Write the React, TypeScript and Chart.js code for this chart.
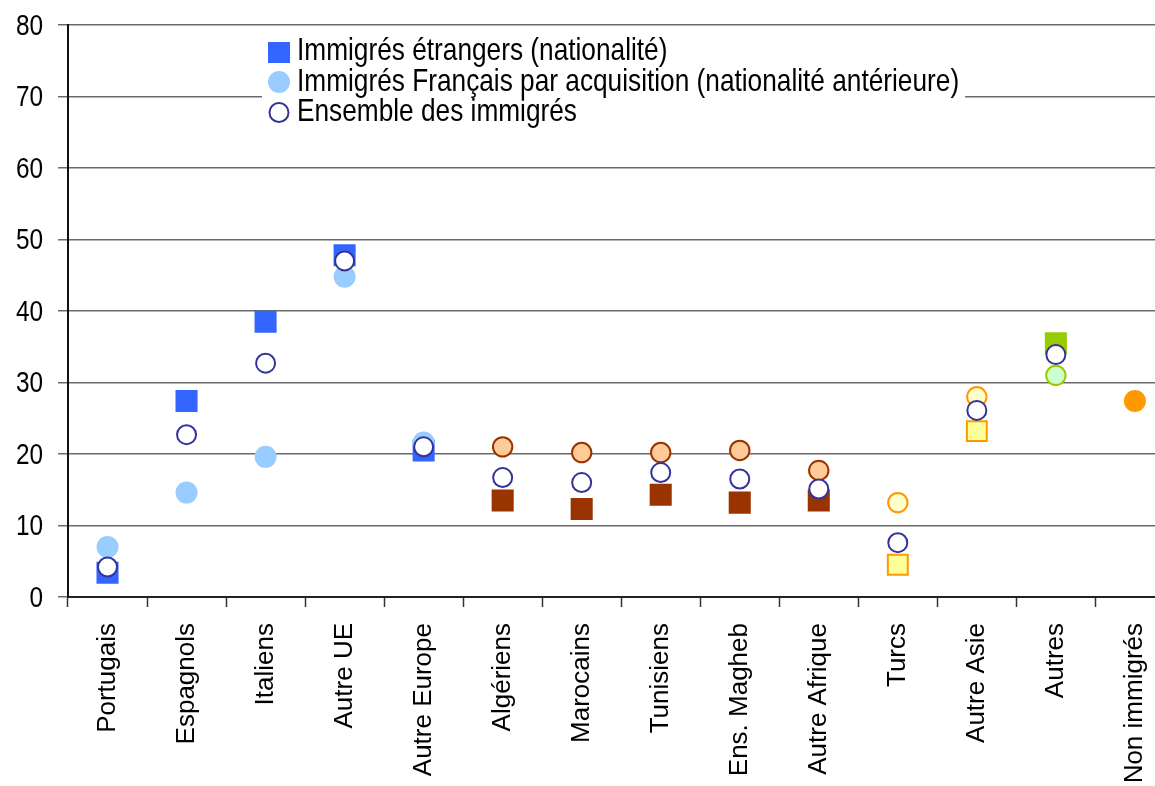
import React, { useEffect, useRef } from "react";
import { Chart, registerables } from "chart.js";

Chart.register(...registerables);

const categories = [
  "Portugais", "Espagnols", "Italiens", "Autre UE", "Autre Europe",
  "Algériens", "Marocains", "Tunisiens", "Ens. Magheb", "Autre Afrique",
  "Turcs", "Autre Asie", "Autres", "Non immigrés",
];

const etrangers = [3.4, 27.4, 38.5, 47.8, 20.5, 13.5, 12.3, 14.3, 13.2, 13.5, 4.5, 23.2, 35.5, null];
const francaisAcquisition = [7.0, 14.6, 19.6, 44.8, 21.6, 21.0, 20.2, 20.2, 20.5, 17.7, 13.2, 28.0, 31.0, null];
const ensemble = [4.2, 22.7, 32.7, 47.0, 21.0, 16.7, 16.0, 17.4, 16.5, 15.1, 7.6, 26.1, 33.9, 27.4];

const yTicks = [0, 10, 20, 30, 40, 50, 60, 70, 80];

const legendLabels = [
  "Immigrés étrangers (nationalité)",
  "Immigrés Français par acquisition (nationalité antérieure)",
  "Ensemble des immigrés",
];

// group of each category -> styles
const groupOf = [0, 0, 0, 0, 0, 1, 1, 1, 1, 1, 2, 2, 3, 4];
const squareFill = ["#3366FF", "#993300", "#FFFF99", "#99CC00", "#FF9900"];
const squareBorder = ["#3366FF", "#993300", "#FF9900", "#99CC00", "#FF9900"];
const squareBW = [0, 0, 2, 0, 0];
const circleFill = ["#99CCFF", "#FFCC99", "#FFFFCC", "#CCFFCC", "#FF9900"];
const circleBorder = ["#99CCFF", "#993300", "#FF9900", "#99CC00", "#FF9900"];
const circleBW = [0, 2, 2, 2, 0];

const REGULAR = "'Liberation Sans', Arial, sans-serif";
const NARROW_SCALE = 0.82;

const textPlugin = {
  id: "customText",
  afterDraw(chart: any) {
    const ctx = chart.ctx as CanvasRenderingContext2D;

    // y-axis labels (condensed)
    const yScale = chart.scales.y;
    ctx.save();
    ctx.font = `29px ${REGULAR}`;
    ctx.fillStyle = "#000000";
    ctx.textBaseline = "alphabetic";
    ctx.textAlign = "right";
    yTicks.forEach((v) => {
      const py = yScale.getPixelForValue(v);
      ctx.save();
      ctx.translate(yScale.right - 25, py + 9.5);
      ctx.scale(0.84, 1);
      ctx.fillText(String(v), 0, 0);
      ctx.restore();
    });
    ctx.restore();

    // legend
    ctx.save();
    ctx.font = `32px ${REGULAR}`;
    const widths = legendLabels.map((t) => ctx.measureText(t).width * NARROW_SCALE);
    const textX = 297;
    const right = textX + Math.max(...widths) + 6;
    ctx.fillStyle = "#ffffff";
    ctx.fillRect(262, 30, right - 262, 98);

    ctx.fillStyle = "#3366FF";
    ctx.fillRect(268, 42, 22, 21);
    ctx.beginPath();
    ctx.arc(279, 82, 11, 0, Math.PI * 2);
    ctx.fillStyle = "#99CCFF";
    ctx.fill();
    ctx.beginPath();
    ctx.arc(279, 112.5, 9.5, 0, Math.PI * 2);
    ctx.fillStyle = "#ffffff";
    ctx.fill();
    ctx.lineWidth = 2;
    ctx.strokeStyle = "#333399";
    ctx.stroke();

    ctx.fillStyle = "#000000";
    ctx.textBaseline = "alphabetic";
    ctx.textAlign = "left";
    const baselines = [60, 90.5, 120.5];
    legendLabels.forEach((t, i) => {
      ctx.save();
      ctx.translate(textX, baselines[i]);
      ctx.scale(NARROW_SCALE, 1);
      ctx.fillText(t, 0, 0);
      ctx.restore();
    });
    ctx.restore();
  },
};

export default function App() {
  const ref = useRef<HTMLCanvasElement | null>(null);

  useEffect(() => {
    if (!ref.current) return;
    const g = (arr: any[]) => categories.map((_, i) => arr[groupOf[i]]);
    const chart = new Chart(ref.current, {
      type: "line",
      data: {
        labels: categories,
        datasets: [
          {
            label: legendLabels[0],
            data: etrangers,
            showLine: false,
            order: 3,
            pointStyle: "rect",
            pointRadius: categories.map((_, i) => (squareBW[groupOf[i]] ? 14.1 : 15.6)),
            pointBackgroundColor: g(squareFill),
            pointBorderColor: g(squareBorder),
            pointBorderWidth: g(squareBW),
          },
          {
            label: legendLabels[1],
            data: francaisAcquisition,
            showLine: false,
            order: 2,
            pointStyle: "circle",
            pointRadius: categories.map((_, i) => (circleBW[groupOf[i]] ? 9.7 : 11)),
            pointBackgroundColor: g(circleFill),
            pointBorderColor: g(circleBorder),
            pointBorderWidth: g(circleBW),
          },
          {
            label: legendLabels[2],
            data: ensemble,
            showLine: false,
            order: 1,
            pointStyle: "circle",
            pointRadius: categories.map((_, i) => (groupOf[i] === 4 ? 11 : 9.5)),
            pointBackgroundColor: categories.map((_, i) => (groupOf[i] === 4 ? "#FF9900" : "#ffffff")),
            pointBorderColor: categories.map((_, i) => (groupOf[i] === 4 ? "#FF9900" : "#333399")),
            pointBorderWidth: categories.map((_, i) => (groupOf[i] === 4 ? 0 : 2)),
          },
        ],
      },
      options: {
        animation: false,
        responsive: false,
        devicePixelRatio: 1,
        layout: { padding: { top: 25, right: 6, left: 0, bottom: 0 } },
        plugins: { legend: { display: false }, tooltip: { enabled: false } },
        events: [],
        scales: {
          x: {
            type: "category",
            offset: true,
            grid: {
              offset: true,
              drawOnChartArea: false,
              drawTicks: true,
              tickLength: 10,
              tickColor: "#333333",
              tickWidth: 1.5,
            },
            border: { display: true, color: "#222222", width: 2 },
            ticks: {
              autoSkip: false,
              maxRotation: 90,
              minRotation: 90,
              padding: 16,
              color: "#000000",
              font: { family: REGULAR, size: 26 },
            },
            afterFit(scale: any) {
              scale.height = 189;
              scale.paddingLeft = 0;
              scale.paddingRight = 0;
            },
          },
          y: {
            min: 0,
            max: 80,
            afterBuildTicks(scale: any) {
              scale.ticks = yTicks.map((v) => ({ value: v }));
            },
            grid: {
              color: "#6a6a6a",
              lineWidth: 1.5,
              drawTicks: true,
              tickLength: 10,
              tickColor: "#6a6a6a",
            },
            border: { display: true, color: "#111111", width: 2 },
            ticks: { display: false },
            afterFit(scale: any) {
              scale.width = 68;
              scale.paddingTop = 0;
              scale.paddingBottom = 0;
            },
          },
        },
      },
      plugins: [textPlugin],
    });
    return () => chart.destroy();
  }, []);

  return (
    <div
      style={{
        position: "absolute",
        left: 0,
        top: 0,
        width: 1155,
        height: 786,
        overflow: "hidden",
        background: "#ffffff",
      }}
    >
      <canvas ref={ref} width={1190} height={786} style={{ display: "block" }} />
    </div>
  );
}
